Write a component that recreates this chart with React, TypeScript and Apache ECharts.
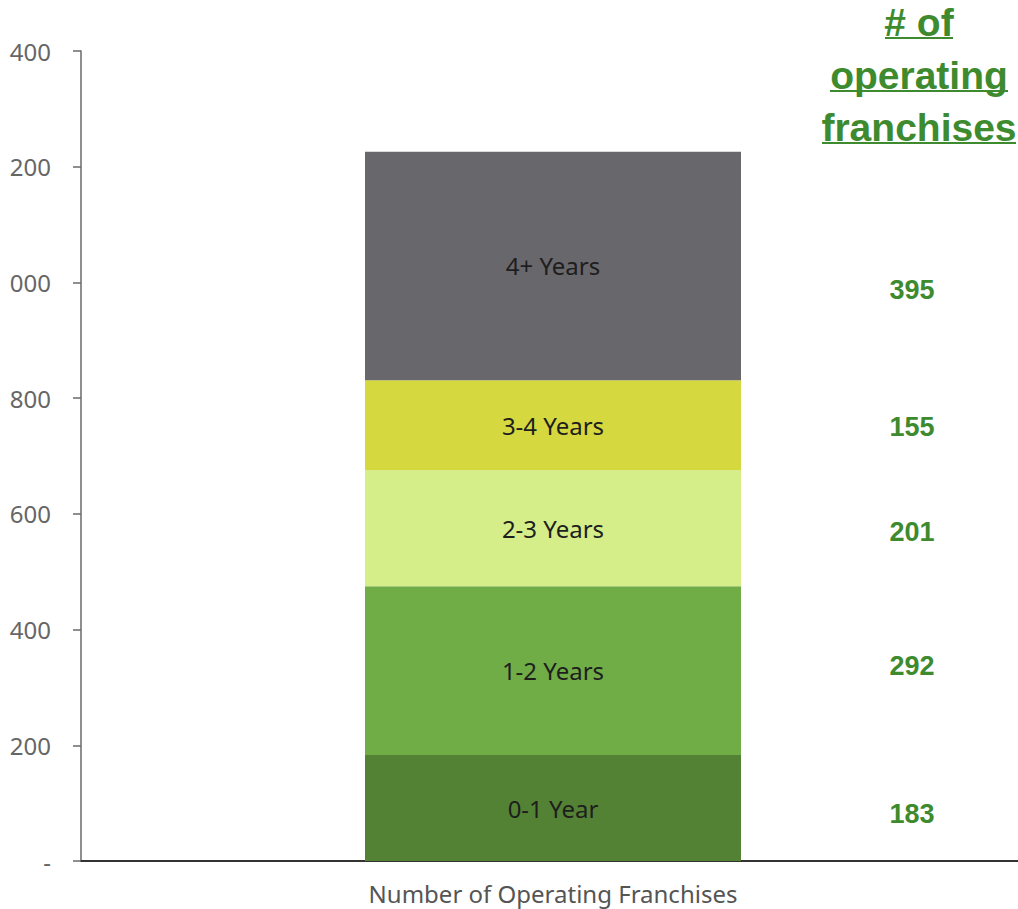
import React, { useEffect, useRef } from "react";
import * as echarts from "echarts";

const categories = ["Number of Operating Franchises"];
const segmentNames = ["0-1 Year", "1-2 Years", "2-3 Years", "3-4 Years", "4+ Years"];
const segmentValues = [183, 292, 201, 155, 395];
const yTicks = [0, 200, 400, 600, 800, 1000, 1200, 1400];
const titleLines = ["# of", "operating", "franchises"];

const segmentColors = ["#548235", "#70AD47", "#D5EE8A", "#D6D83F", "#68676C"];
const numberNudge = [6, -5, 4, 2, 24];
const GREEN = "#3E8A2E";
const FONT = "'Noto Sans', 'Liberation Sans', Arial, sans-serif";
const BOLD_FONT = "'Liberation Sans', Arial, sans-serif";

export default function App() {
  const ref = useRef<HTMLDivElement>(null);
  useEffect(() => {
    document.body.style.margin = "0";
    if (!ref.current) return;
    const chart = echarts.init(ref.current, null, { renderer: "svg" });

    const colouredSeries = segmentNames.map((name, i) => ({
      name,
      type: "bar",
      stack: "segments",
      xAxisIndex: 0,
      barWidth: 376,
      barGap: "-100%",
      silent: true,
      itemStyle: { color: segmentColors[i] },
      label: {
        show: true,
        position: "inside",
        formatter: name,
        color: "#1e1e1e",
        fontSize: 24,
        fontFamily: FONT,
      },
      data: categories.map(() => segmentValues[i]),
    }));

    const numberSeries = segmentNames.map((name, i) => ({
      name: name + " count",
      type: "bar",
      stack: "counts",
      xAxisIndex: 0,
      barWidth: 376,
      barGap: "-100%",
      silent: true,
      itemStyle: { color: "rgba(0,0,0,0)" },
      label: {
        show: true,
        position: ["145.5%", "50%"],
        align: "center",
        verticalAlign: "middle",
        offset: [0, numberNudge[i]],
        formatter: String(segmentValues[i]),
        color: GREEN,
        fontSize: 27,
        fontWeight: "bold",
        fontFamily: BOLD_FONT,
      },
      data: categories.map(() => segmentValues[i]),
    }));

    const titleGraphics: any[] = [];
    const lineY = [22, 75, 127];
    const lineHalfWidths = [34, 89, 97];
    titleLines.forEach((t, i) => {
      titleGraphics.push({
        type: "text",
        x: 919,
        y: lineY[i],
        style: {
          text: t,
          fill: GREEN,
          font: `bold 39px ${BOLD_FONT}`,
          textAlign: "center",
          textVerticalAlign: "middle",
        },
      });
      titleGraphics.push({
        type: "line",
        shape: {
          x1: 919 - lineHalfWidths[i],
          y1: lineY[i] + 16,
          x2: 919 + lineHalfWidths[i],
          y2: lineY[i] + 16,
        },
        style: { stroke: GREEN, lineWidth: 2 },
      });
    });

    chart.setOption({
      animation: false,
      backgroundColor: "#ffffff",
      grid: { left: 81, top: 51, width: 944, bottom: 48, containLabel: false },
      xAxis: [
        {
          type: "category",
          data: categories,
          axisLine: { show: true, lineStyle: { color: "#333333", width: 2 } },
          axisTick: { show: false },
          axisLabel: {
            color: "#555555",
            fontSize: 24,
            fontFamily: FONT,
            margin: 20,
          },
        },
      ],
      yAxis: {
        type: "value",
        min: yTicks[0],
        max: yTicks[yTicks.length - 1],
        interval: yTicks[1] - yTicks[0],
        axisLine: { show: true, lineStyle: { color: "#6a6a6a", width: 1.5 } },
        axisTick: { show: true, length: 8, lineStyle: { color: "#6a6a6a", width: 1.5 } },
        splitLine: { show: false },
        axisLabel: {
          color: "#666666",
          fontSize: 24,
          fontFamily: FONT,
          margin: 30,
          formatter: (v: number) => (v === 0 ? "-" : String(v % 1000).padStart(3, "0")),
        },
      },
      series: [...colouredSeries, ...numberSeries],
      graphic: titleGraphics,
    });
    return () => chart.dispose();
  }, []);
  return (
    <div style={{ width: 1018, height: 909, overflow: "hidden" }}>
      <div ref={ref} style={{ width: 1040, height: 909 }} />
    </div>
  );
}
